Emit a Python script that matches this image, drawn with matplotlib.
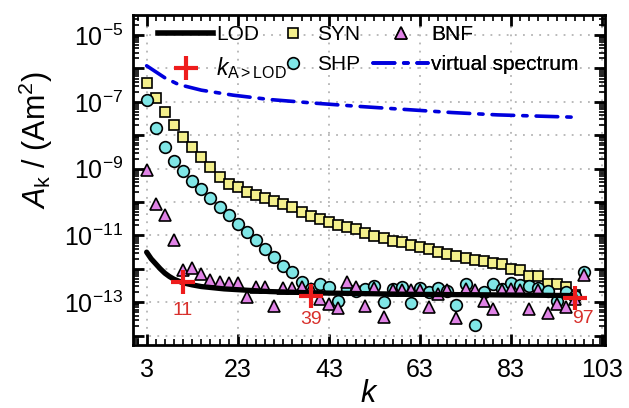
import matplotlib
matplotlib.use("Agg")
import matplotlib.pyplot as plt
import numpy as np
from matplotlib.lines import Line2D
from matplotlib.ticker import FixedLocator, LogLocator, NullFormatter, FuncFormatter

plt.rcParams['font.family'] = ['Liberation Sans', 'DejaVu Sans']
plt.rcParams['mathtext.fontset'] = 'custom'
plt.rcParams['mathtext.rm'] = 'Liberation Sans'
plt.rcParams['mathtext.it'] = 'Liberation Sans:italic'

# ---------------- data (log10 of A_k) ----------------
k_syn = list(range(3, 98, 2))
syn_log = [-6.43, -6.88, -7.31, -7.69, -8.04, -8.36, -8.66, -8.96, -9.24, -9.45,
           -9.56, -9.69, -9.79, -9.89, -9.97, -10.06, -10.16, -10.29, -10.41, -10.51,
           -10.59, -10.69, -10.74, -10.82, -10.94, -11.02, -11.09, -11.16, -11.21, -11.29,
           -11.34, -11.42, -11.49, -11.56, -11.62, -11.69, -11.74, -11.77, -11.82, -11.84,
           -12.01, -12.04, -12.20, -12.22, -12.46, -12.46, -12.53, -12.78]

k_shp = list(range(3, 100, 2))
shp_log = [-6.95, -7.79, -8.36, -8.76, -9.07, -9.36, -9.62, -9.89, -10.14, -10.38,
           -10.65, -10.90, -11.15, -11.40, -11.65, -11.90, -12.10, -12.40, -12.60, -12.45,
           -12.53, -12.95, -12.60, -12.65, -12.60, -12.50, -13.00, -12.60, -12.55, -13.03,
           -12.58, -12.68, -12.58, -12.65, -13.08, -12.45, -13.68, -12.68, -12.45, -12.60,
           -12.42, -12.47, -12.52, -12.57, -12.65, -12.95, -12.70, -12.80, -12.10]

k_bnf = list(range(3, 100, 2))
bnf_log = [-9.04, -10.05, -10.39, -11.14, -12.04, -11.96, -12.14, -12.34, -12.39, -12.43,
           -12.43, -12.83, -12.53, -12.53, -13.10, -12.58, -12.58, -12.53, -12.60, -12.90,
           -13.05, -13.18, -12.40, -12.53, -13.10, -12.58, -13.45, -12.63, -12.63, -12.63,
           -12.63, -13.13, -12.75, -12.63, -13.48, -12.60, -12.63, -12.97, -13.20, -12.63,
           -12.60, -12.63, -13.20, -12.63, -13.33, -13.05, -13.13, -12.90, -12.19]

k_lod = [3, 4, 5, 6, 7, 8, 9, 11, 13, 15, 20, 25, 30, 40, 50, 60, 70, 80, 97]
lod_log = [-11.50, -11.70, -11.85, -12.00, -12.13, -12.23, -12.31, -12.42, -12.48, -12.53,
           -12.60, -12.64, -12.68, -12.72, -12.74, -12.76, -12.77, -12.78, -12.80]

k_vs = [3, 5, 7, 10, 15, 22, 30, 40, 50, 60, 70, 80, 97]
vs_log = [-5.92, -6.10, -6.28, -6.48, -6.65, -6.80, -6.93, -7.04, -7.14, -7.23, -7.32, -7.39, -7.46]

k_cross = [11, 39, 97]
cross_log = [-12.40, -12.80, -12.88]
cross_labels = ["11", "39", "97"]

xticks = [3, 23, 43, 63, 83, 103]
yticks_major = [10.0 ** e for e in range(-14, -4)]
ylabels_shown = [-5, -7, -9, -11, -13]

# ---------------- styles ----------------
VS_STYLE = dict(color='#0000dd', lw=2.6, dashes=(6, 2.5, 1.2, 2.5), dash_capstyle='round')
SYN_STYLE = dict(ls='none', marker='s', ms=7.6, mfc='#f4f08c', mec='black', mew=1.2)
SHP_STYLE = dict(ls='none', marker='o', ms=8.4, mfc='#7fe6e6', mec='black', mew=1.2)
BNF_STYLE = dict(ls='none', marker='^', ms=9, mfc='#e083e6', mec='black', mew=1.2)
LOD_STYLE = dict(color='black', lw=3.8)
CROSS_STYLE = dict(ls='none', marker='+', ms=17, mew=3, color='#ee1c1c')

fig = plt.figure(figsize=(6.29, 4.08), dpi=100)
ax = fig.add_axes([0.2114, 0.1544, 0.7504, 0.8088])

to_lin = lambda arr: [10.0 ** v for v in arr]

ax.plot(k_vs, to_lin(vs_log), zorder=3, **VS_STYLE)
ax.plot(k_syn, to_lin(syn_log), zorder=4, **SYN_STYLE)
ax.plot(k_shp, to_lin(shp_log), zorder=5, **SHP_STYLE)
ax.plot(k_bnf, to_lin(bnf_log), zorder=6, **BNF_STYLE)
ax.plot(k_lod, to_lin(lod_log), zorder=7, solid_capstyle='round', **LOD_STYLE)
ax.plot(k_cross, to_lin(cross_log), zorder=8, **CROSS_STYLE)

offsets = {"11": (0, -0.85), "39": (0, -0.72), "97": (1.8, -0.6)}
for kk, v, lab in zip(k_cross, cross_log, cross_labels):
    dx, dy = offsets[lab]
    ax.text(kk + dx, 10.0 ** (v + dy), lab, color='#d8302c', fontsize=14,
            ha='center', va='center', zorder=9)

ax.set_yscale('log')
ax.set_xlim(0, 103.6)
ax.set_ylim(10 ** -14.28, 10 ** -4.40)

ax.xaxis.set_major_locator(FixedLocator(xticks))
ax.xaxis.set_minor_locator(FixedLocator(list(range(1, 104, 2))))
ax.yaxis.set_major_locator(FixedLocator(yticks_major))
ax.yaxis.set_minor_locator(LogLocator(base=10, subs=np.arange(2, 10), numticks=100))
ax.yaxis.set_minor_formatter(NullFormatter())

def yfmt(val, pos):
    e = int(round(np.log10(val)))
    return r'$10^{%d}$' % e if e in ylabels_shown else ''
ax.yaxis.set_major_formatter(FuncFormatter(yfmt))
ax.set_xticklabels([str(t) for t in xticks])

ax.tick_params(which='both', direction='in', top=True, right=True)
ax.tick_params(which='major', length=8, width=2, labelsize=18, pad=7)
ax.tick_params(which='minor', length=4, width=1.2)
ax.tick_params(axis='x', which='major', pad=9)
for s in ax.spines.values():
    s.set_linewidth(2)

ax.grid(True, which='major', color='#b4b4b4', ls=(0, (1, 3.5)), lw=1.3)
ax.set_axisbelow(True)

ax.set_xlabel(r'$k$', fontsize=22, labelpad=-2)
ax.set_ylabel(r'$A_\mathrm{k}$ / (Am$^2$)', fontsize=22)
ax.yaxis.set_label_coords(-0.165, 0.62)

# ---------------- legend: three columns ----------------
def px2ax(px, py):
    return ((px - 133) / 472.0, (345 - py) / 330.0)

cols = [
    ([Line2D([], [], color='black', lw=4), Line2D([], [], **CROSS_STYLE)],
     ['LOD', r'$k_{\mathrm{A>LOD}}$'], 158, 2.65),
    ([Line2D([], [], **SYN_STYLE), Line2D([], [], **SHP_STYLE)],
     ['SYN', 'SHP'], 272, 2.0),
    ([Line2D([], [], **BNF_STYLE), Line2D([], [], **VS_STYLE)],
     ['BNF', 'virtual spectrum'], 373, 2.65),
]
for i, (hs, ls_, x0, hl) in enumerate(cols):
    leg = ax.legend(hs, ls_, loc='upper left', bbox_to_anchor=px2ax(x0, 25),
                    frameon=False, fontsize=15, handlelength=hl, handletextpad=0.15,
                    labelspacing=0.55, borderaxespad=0, borderpad=0)
    if i == 0:
        leg.get_texts()[1].set_fontsize(16.5)
    ax.add_artist(leg)

fig.savefig('out.png', dpi=100)
